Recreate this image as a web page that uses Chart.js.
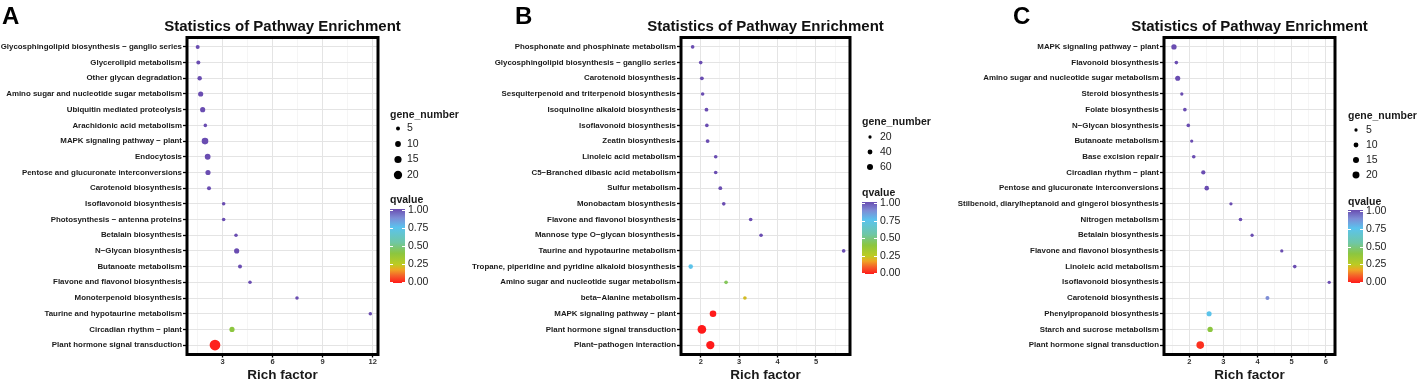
<!DOCTYPE html>
<html>
<head>
<meta charset="utf-8">
<script src="https://cdn.jsdelivr.net/npm/chart.js@4.4.0/dist/chart.umd.min.js"></script>
<style>
  body { margin: 0; background: #fff; }
  #wrap { position: relative; width: 1417px; height: 380px; }
  #wrap canvas { position: absolute; left: 0; top: 0; }
</style>
</head>
<body>
<div id="wrap">
  <canvas id="chartA" width="1417" height="380"></canvas>
  <canvas id="chartB" width="1417" height="380"></canvas>
  <canvas id="chartC" width="1417" height="380"></canvas>
</div>
<script>
// ---- Panel A data (top row first) ----
const pathwaysA = [
  'Glycosphingolipid biosynthesis \u2212 ganglio series', 'Glycerolipid metabolism', 'Other glycan degradation',
  'Amino sugar and nucleotide sugar metabolism', 'Ubiquitin mediated proteolysis', 'Arachidonic acid metabolism',
  'MAPK signaling pathway \u2212 plant', 'Endocytosis', 'Pentose and glucuronate interconversions',
  'Carotenoid biosynthesis', 'Isoflavonoid biosynthesis', 'Photosynthesis \u2212 antenna proteins',
  'Betalain biosynthesis', 'N\u2212Glycan biosynthesis', 'Butanoate metabolism',
  'Flavone and flavonol biosynthesis', 'Monoterpenoid biosynthesis', 'Taurine and hypotaurine metabolism',
  'Circadian rhythm \u2212 plant', 'Plant hormone signal transduction'
];
const richA = [1.5, 1.54, 1.62, 1.68, 1.8, 1.96, 1.94, 2.1, 2.12, 2.18, 3.06, 3.06, 3.8, 3.84, 4.04, 4.64, 7.46, 11.86, 3.56, 2.54];
const genesA = [5, 5, 6, 8, 8, 4, 13, 10, 8, 5, 4, 4, 4, 8, 5, 4, 4, 4, 8, 33];
const qvalA = [1, 1, 1, 1, 1, 1, 1, 1, 1, 1, 1, 1, 1, 1, 1, 1, 1, 1, 0.4, 0.01];
const xTicksA = [3, 6, 9, 12];
const xMinorA = [1.5, 4.5, 7.5, 10.5];
const sizeBreaksA = [5, 10, 15, 20];

// ---- Panel B data ----
const pathwaysB = [
  'Phosphonate and phosphinate metabolism', 'Glycosphingolipid biosynthesis \u2212 ganglio series', 'Carotenoid biosynthesis',
  'Sesquiterpenoid and triterpenoid biosynthesis', 'Isoquinoline alkaloid biosynthesis', 'Isoflavonoid biosynthesis',
  'Zeatin biosynthesis', 'Linoleic acid metabolism', 'C5\u2212Branched dibasic acid metabolism',
  'Sulfur metabolism', 'Monobactam biosynthesis', 'Flavone and flavonol biosynthesis',
  'Mannose type O\u2212glycan biosynthesis', 'Taurine and hypotaurine metabolism',
  'Tropane, piperidine and pyridine alkaloid biosynthesis', 'Amino sugar and nucleotide sugar metabolism',
  'beta\u2212Alanine metabolism', 'MAPK signaling pathway \u2212 plant', 'Plant hormone signal transduction',
  'Plant\u2212pathogen interaction'
];
const richB = [1.79, 2.0, 2.03, 2.05, 2.15, 2.16, 2.18, 2.39, 2.39, 2.51, 2.6, 3.3, 3.57, 5.72, 1.74, 2.66, 3.15, 2.32, 2.03, 2.25];
const genesB = [24, 24, 26, 24, 26, 24, 26, 24, 24, 26, 24, 24, 24, 24, 36, 24, 24, 72, 122, 112];
const qvalB = [1, 1, 1, 1, 1, 1, 1, 1, 1, 1, 1, 1, 1, 1, 0.74, 0.44, 0.22, 0, 0, 0];
const xTicksB = [2, 3, 4, 5];
const xMinorB = [1.5, 2.5, 3.5, 4.5, 5.5];
const sizeBreaksB = [20, 40, 60];

// ---- Panel C data ----
const pathwaysC = [
  'MAPK signaling pathway \u2212 plant', 'Flavonoid biosynthesis', 'Amino sugar and nucleotide sugar metabolism',
  'Steroid biosynthesis', 'Folate biosynthesis', 'N\u2212Glycan biosynthesis', 'Butanoate metabolism',
  'Base excision repair', 'Circadian rhythm \u2212 plant', 'Pentose and glucuronate interconversions',
  'Stilbenoid, diarylheptanoid and gingerol biosynthesis', 'Nitrogen metabolism', 'Betalain biosynthesis',
  'Flavone and flavonol biosynthesis', 'Linoleic acid metabolism', 'Isoflavonoid biosynthesis',
  'Carotenoid biosynthesis', 'Phenylpropanoid biosynthesis', 'Starch and sucrose metabolism',
  'Plant hormone signal transduction'
];
const richC = [1.55, 1.62, 1.66, 1.78, 1.87, 1.97, 2.07, 2.13, 2.41, 2.51, 3.22, 3.5, 3.84, 4.71, 5.09, 6.1, 4.29, 2.58, 2.61, 2.32];
const genesC = [12, 6, 11, 5, 6, 6, 5, 6, 8, 9, 5, 6, 5, 5, 6, 5, 7, 11, 12, 24];
const qvalC = [1, 1, 1, 1, 1, 1, 1, 1, 1, 1, 1, 1, 1, 1, 1, 1, 0.88, 0.74, 0.4, 0.03];
const xTicksC = [2, 3, 4, 5, 6];
const xMinorC = [1.5, 2.5, 3.5, 4.5, 5.5];
const sizeBreaksC = [5, 10, 15, 20];

const qBreaks = [0, 0.25, 0.5, 0.75, 1];

// colour ramp used for qvalue (position, colour)
const qRamp = [
  [0, '#FF1A1A'], [0.1, '#F4622A'], [0.18, '#EFA524'], [0.25, '#BDCB22'], [0.4, '#8CC63F'],
  [0.55, '#6FC7A6'], [0.75, '#5AC3EE'], [0.88, '#7D8DD6'], [1, '#6A4DB1']
];

const FONT = '"Liberation Sans", Arial, sans-serif';

function hexRgb(h) {
  return [parseInt(h.slice(1, 3), 16), parseInt(h.slice(3, 5), 16), parseInt(h.slice(5, 7), 16)];
}

function qColor(q) {
  for (let i = 1; i < qRamp.length; i++) {
    if (q <= qRamp[i][0]) {
      const [p0, c0] = qRamp[i - 1];
      const [p1, c1] = qRamp[i];
      const t = (q - p0) / (p1 - p0);
      const a = hexRgb(c0), b = hexRgb(c1);
      const c = a.map((v, k) => Math.round(v + (b[k] - v) * t));
      return `rgb(${c[0]},${c[1]},${c[2]})`;
    }
  }
  return qRamp[qRamp.length - 1][1];
}

// area of the dot grows linearly with gene number
function sizeScale(a, b) {
  return n => Math.sqrt(Math.max(a + b * n, 0.8));
}

function makePanel(id, p) {
  const ctx = document.getElementById(id).getContext('2d');
  const rFn = sizeScale(p.sizeA, p.sizeB);

  // panel border, title, letter and legends
  const decor = {
    id: 'decor' + id,
    afterDatasetsDraw(chart) {
      const c = chart.ctx, a = chart.chartArea;
      c.save();
      c.strokeStyle = '#000';
      c.lineWidth = 3;
      c.strokeRect(a.left, a.top, a.right - a.left, a.bottom - a.top);
      c.restore();
    },
    afterDraw(chart) {
      const c = chart.ctx, a = chart.chartArea, lg = p.legend;
      c.save();
      c.textBaseline = 'middle';
      // title
      c.fillStyle = '#111';
      c.textAlign = 'center';
      c.font = `bold 15px ${FONT}`;
      c.fillText('Statistics of Pathway Enrichment', (a.left + a.right) / 2, 27);
      // panel letter
      c.textAlign = 'left';
      c.fillStyle = '#000';
      c.font = `bold 24px ${FONT}`;
      c.fillText(p.letter, p.letterX, 17);

      // size legend
      c.fillStyle = '#1a1a1a';
      c.font = `bold 10.5px ${FONT}`;
      c.fillText('gene_number', lg.x, lg.titleY);
      p.sizeBreaks.forEach((s, i) => {
        const y = lg.itemY0 + i * lg.itemGap;
        c.beginPath();
        c.arc(lg.dotX, y, rFn(s), 0, Math.PI * 2);
        c.fillStyle = '#000';
        c.fill();
        c.fillStyle = '#222';
        c.font = `10.5px ${FONT}`;
        c.fillText(String(s), lg.labelX, y);
      });

      // colour bar
      c.fillStyle = '#1a1a1a';
      c.font = `bold 10.5px ${FONT}`;
      c.fillText('qvalue', lg.x, lg.qTitleY);
      const grad = c.createLinearGradient(0, lg.barBottom, 0, lg.barTop);
      qRamp.forEach(([pos, col]) => grad.addColorStop(pos, col));
      c.fillStyle = grad;
      c.fillRect(lg.x, lg.barTop, lg.barW, lg.barBottom - lg.barTop);
      c.strokeStyle = '#fff';
      c.lineWidth = 1;
      c.font = `10.5px ${FONT}`;
      qBreaks.forEach(b => {
        const y = Math.round(lg.barBottom - 1 - b * (lg.barBottom - lg.barTop - 2)) + 0.5;
        c.beginPath();
        c.moveTo(lg.x, y); c.lineTo(lg.x + 3, y);
        c.moveTo(lg.x + lg.barW - 3, y); c.lineTo(lg.x + lg.barW, y);
        c.stroke();
        c.fillStyle = '#222';
        c.fillText(b.toFixed(2), lg.x + lg.barW + 3, y);
      });
      c.restore();
    }
  };

  const xTickList = p.xTicks.map(v => ({ value: v }))
    .concat(p.xMinor.map(v => ({ value: v, minor: true })))
    .sort((u, v) => u.value - v.value);

  return new Chart(ctx, {
    type: 'bubble',
    data: {
      datasets: [{
        data: p.rich.map((x, i) => ({ x: x, y: i, r: rFn(p.genes[i]) })),
        backgroundColor: p.qval.map(qColor),
        borderWidth: 0,
        hoverRadius: 0,
        hoverBorderWidth: 0
      }]
    },
    options: {
      responsive: false,
      animation: false,
      events: [],
      layout: { padding: { top: p.area.top, right: 1417 - p.area.right, left: 0, bottom: 0 } },
      plugins: { legend: { display: false }, tooltip: { enabled: false } },
      scales: {
        x: {
          type: 'linear',
          min: p.xMin,
          max: p.xMax,
          afterBuildTicks: s => { s.ticks = xTickList.map(t => ({ ...t })); },
          afterFit: s => { s.height = 380 - p.area.bottom; },
          ticks: {
            autoSkip: false,
            maxRotation: 0,
            padding: 0,
            color: '#333',
            font: { family: FONT, size: 7.5, weight: 'bold' },
            callback: (v, i, t) => (t[i] && t[i].minor ? '' : String(v))
          },
          grid: {
            color: c => (c.tick && c.tick.minor ? '#f1f1f1' : '#e4e4e4'),
            lineWidth: c => (c.tick && c.tick.minor ? 0.7 : 1),
            tickColor: c => (c.tick && c.tick.minor ? 'rgba(0,0,0,0)' : '#000'),
            tickLength: 3,
            tickWidth: 1.3
          },
          border: { display: false },
          title: {
            display: true,
            text: 'Rich factor',
            color: '#1a1a1a',
            font: { family: FONT, size: 13.5, weight: 'bold', lineHeight: 1 },
            padding: { top: 0, bottom: -2 }
          }
        },
        y: {
          type: 'linear',
          reverse: true,
          min: -0.6,
          max: p.names.length - 1 + 0.6,
          afterBuildTicks: s => { s.ticks = p.names.map((_, i) => ({ value: i })); },
          afterFit: s => { s.width = p.area.left; },
          ticks: {
            autoSkip: false,
            padding: 1,
            color: '#1a1a1a',
            font: { family: FONT, size: 7.9, weight: 'bold' },
            callback: v => p.names[v]
          },
          grid: {
            color: '#e4e4e4',
            lineWidth: 1,
            tickColor: '#000',
            tickLength: 4,
            tickWidth: 1.3
          },
          border: { display: false }
        }
      }
    },
    plugins: [decor]
  });
}

makePanel('chartA', {
  names: pathwaysA, rich: richA, genes: genesA, qval: qvalA,
  xTicks: xTicksA, xMinor: xMinorA, sizeBreaks: sizeBreaksA,
  xMin: 0.86, xMax: 12.32, sizeA: -0.4, sizeB: 0.88,
  area: { left: 187, right: 378, top: 37.5, bottom: 354.5 },
  letter: 'A', letterX: 2,
  legend: { x: 390, titleY: 115, dotX: 398, itemY0: 128.5, itemGap: 15.5, labelX: 407,
            qTitleY: 200, barTop: 209, barBottom: 283, barW: 15 }
});

makePanel('chartB', {
  names: pathwaysB, rich: richB, genes: genesB, qval: qvalB,
  xTicks: xTicksB, xMinor: xMinorB, sizeBreaks: sizeBreaksB,
  xMin: 1.487, xMax: 5.885, sizeA: -0.46, sizeB: 0.158,
  area: { left: 681, right: 850, top: 37.5, bottom: 354.5 },
  letter: 'B', letterX: 515,
  legend: { x: 862, titleY: 122, dotX: 870, itemY0: 137, itemGap: 15, labelX: 880,
            qTitleY: 193, barTop: 202, barBottom: 274, barW: 15 }
});

makePanel('chartC', {
  names: pathwaysC, rich: richC, genes: genesC, qval: qvalC,
  xTicks: xTicksC, xMinor: xMinorC, sizeBreaks: sizeBreaksC,
  xMin: 1.258, xMax: 6.27, sizeA: -0.45, sizeB: 0.63,
  area: { left: 1164, right: 1335, top: 37.5, bottom: 354.5 },
  letter: 'C', letterX: 1013,
  legend: { x: 1348, titleY: 116, dotX: 1356, itemY0: 130, itemGap: 15, labelX: 1366,
            qTitleY: 202, barTop: 210, barBottom: 283, barW: 15 }
});
</script>
</body>
</html>
